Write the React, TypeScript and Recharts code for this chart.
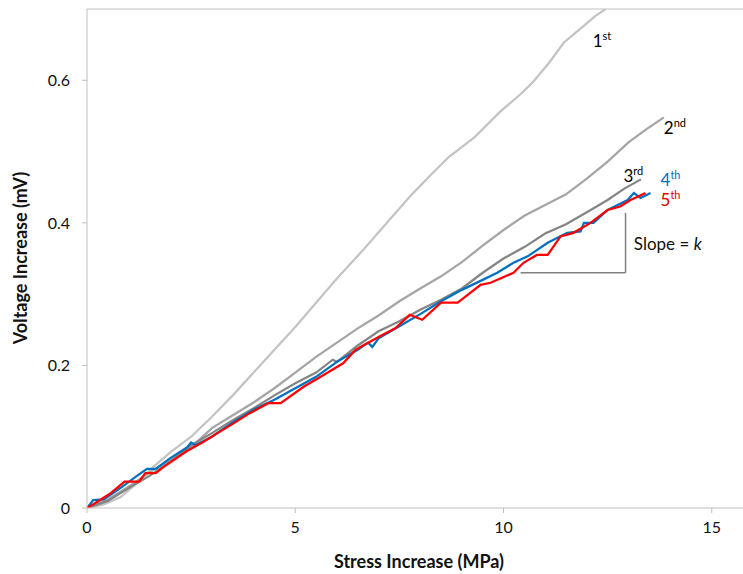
import { LineChart, Line, XAxis, YAxis, ReferenceLine, ReferenceDot } from "recharts";

// loading runs, [stress MPa, voltage mV]
const run1: [number, number][] = [
  [0, 0], [0.4, 0.005], [0.8, 0.015], [1.2, 0.035], [1.6, 0.058], [2.0, 0.078], [2.5, 0.1],
  [3.0, 0.128], [3.5, 0.158], [4.0, 0.19], [4.5, 0.222], [5.0, 0.254], [5.5, 0.288], [6.0, 0.322],
  [6.6, 0.36], [7.2, 0.4], [7.8, 0.44], [8.3, 0.47], [8.7, 0.493], [9.3, 0.52], [9.9, 0.555],
  [10.4, 0.58], [10.7, 0.597], [11.1, 0.625], [11.45, 0.653], [11.9, 0.675], [12.2, 0.69], [12.45, 0.7],
];
const run2: [number, number][] = [
  [0, 0], [0.5, 0.012], [1.0, 0.03], [1.5, 0.05], [2.0, 0.068], [2.5, 0.085], [3.0, 0.112],
  [3.5, 0.13], [4.0, 0.148], [4.5, 0.168], [5.0, 0.19], [5.5, 0.212], [6.0, 0.232], [6.5, 0.252],
  [7.0, 0.27], [7.5, 0.29], [8.0, 0.308], [8.5, 0.325], [9.0, 0.345], [9.5, 0.368], [10.0, 0.39],
  [10.5, 0.41], [11.0, 0.425], [11.5, 0.44], [12.0, 0.462], [12.5, 0.486], [13.0, 0.513], [13.4, 0.53],
  [13.85, 0.548],
];
const run3: [number, number][] = [
  [0, 0], [0.5, 0.01], [1.0, 0.028], [1.5, 0.045], [2.0, 0.065], [2.5, 0.088], [3.0, 0.105],
  [3.5, 0.123], [4.0, 0.14], [4.5, 0.158], [5.0, 0.175], [5.5, 0.19], [5.9, 0.208], [6.0, 0.205],
  [6.5, 0.228], [7.0, 0.248], [7.5, 0.262], [8.0, 0.278], [8.5, 0.292], [9.0, 0.308], [9.5, 0.33],
  [10.0, 0.35], [10.5, 0.366], [11.0, 0.385], [11.5, 0.398], [12.0, 0.415], [12.5, 0.432],
  [12.9, 0.448], [13.3, 0.461],
];
const run4: [number, number][] = [
  [0, 0], [0.15, 0.011], [0.4, 0.012], [0.8, 0.028], [1.2, 0.045], [1.44, 0.055], [1.65, 0.055],
  [2.0, 0.07], [2.4, 0.085], [2.5, 0.092], [2.6, 0.088], [3.0, 0.1], [3.5, 0.12], [4.0, 0.138],
  [4.5, 0.152], [5.0, 0.168], [5.5, 0.184], [6.0, 0.205], [6.5, 0.222], [6.75, 0.232], [6.85, 0.226],
  [7.0, 0.238], [7.5, 0.255], [8.0, 0.272], [8.5, 0.29], [9.0, 0.306], [9.5, 0.32], [9.85, 0.33],
  [10.24, 0.344], [10.58, 0.353], [11.06, 0.372], [11.53, 0.386], [11.85, 0.388], [11.93, 0.4],
  [12.16, 0.4], [12.5, 0.418], [12.98, 0.432], [13.13, 0.442], [13.29, 0.435], [13.53, 0.442],
];
const run5: [number, number][] = [
  [0, 0], [0.2, 0.007], [0.55, 0.02], [0.9, 0.037], [1.25, 0.037], [1.4, 0.049], [1.65, 0.049],
  [1.85, 0.058], [2.4, 0.08], [2.8, 0.093], [3.1, 0.104], [3.5, 0.118], [3.85, 0.131], [4.35, 0.147],
  [4.65, 0.147], [5.2, 0.17], [5.55, 0.182], [6.15, 0.203], [6.45, 0.222], [7.0, 0.24], [7.4, 0.252],
  [7.75, 0.271], [8.05, 0.264], [8.5, 0.288], [8.9, 0.288], [9.45, 0.313], [9.69, 0.316],
  [10.24, 0.33], [10.48, 0.344], [10.8, 0.355], [11.06, 0.355], [11.37, 0.381], [11.68, 0.386],
  [12.09, 0.4], [12.5, 0.418], [12.8, 0.423], [13.05, 0.432], [13.41, 0.442],
];

const xTicks = [0, 5, 10, 15];
const yTicks = [0, 0.2, 0.4, 0.6];

// curve labels: [text, superscript, x, y, colour]
const runLabels: [string, string, number, number, string][] = [
  ["1", "st", 12.14, 0.647, "#000"],
  ["2", "nd", 13.85, 0.524, "#000"],
  ["3", "rd", 12.88, 0.458, "#000"],
  ["4", "th", 13.77, 0.452, "#0070C0"],
  ["5", "th", 13.77, 0.424, "#E00000"],
];

const toPoints = (run: [number, number][]) => run.map(([x, y]) => ({ x, y }));

const series = [
  { name: "1st", data: toPoints(run1), color: "#C3C3C3" },
  { name: "2nd", data: toPoints(run2), color: "#A5A5A5" },
  { name: "3rd", data: toPoints(run3), color: "#858585" },
  { name: "4th", data: toPoints(run4), color: "#0070C0" },
  { name: "5th", data: toPoints(run5), color: "#FF0000" },
];

const FONT = "Lato, 'Open Sans', sans-serif";
const AXIS = "#BFBFBF";

export default function App() {
  return (
    <div style={{ position: "fixed", left: 0, top: 0, background: "#fff" }}>
      <LineChart width={743} height={574} margin={{ top: 9, right: 0, bottom: 0, left: 0 }}>
        <XAxis
          type="number"
          dataKey="x"
          domain={[0, 15.75]}
          ticks={xTicks}
          height={66}
          stroke={AXIS}
          tickSize={5}
          tickMargin={9}
          tick={{ fontSize: 16, fill: "#111", fontFamily: FONT }}
          allowDataOverflow
          label={(p: any) => (
            <text x={419} y={568} textAnchor="middle" fontSize={18} fontWeight={700} fontFamily={FONT} fill="#111">
              Stress Increase (MPa)
            </text>
          )}
        />
        <YAxis
          type="number"
          dataKey="y"
          domain={[0, 0.7]}
          ticks={yTicks}
          width={87}
          stroke={AXIS}
          tickSize={5}
          tickMargin={12}
          tick={{ fontSize: 16, fill: "#111", fontFamily: FONT }}
          allowDataOverflow
          label={(p: any) => (
            <text
              x={0}
              y={0}
              transform="translate(27 258) rotate(-90)"
              textAnchor="middle"
              fontSize={18}
              fontWeight={700}
              fontFamily={FONT}
              fill="#111"
            >
              Voltage Increase (mV)
            </text>
          )}
        />
        <ReferenceLine y={0.7} stroke={AXIS} />
        {series.map((s) => (
          <Line
            key={s.name}
            data={s.data}
            dataKey="y"
            type="linear"
            stroke={s.color}
            strokeWidth={2.25}
            dot={false}
            isAnimationActive={false}
          />
        ))}
        <ReferenceLine segment={[{ x: 10.41, y: 0.33 }, { x: 12.93, y: 0.33 }]} stroke="#808080" strokeWidth={1.5} />
        <ReferenceLine segment={[{ x: 12.93, y: 0.33 }, { x: 12.93, y: 0.414 }]} stroke="#808080" strokeWidth={1.5} />
        <ReferenceDot
          x={13.13}
          y={0.362}
          r={0}
          stroke="none"
          label={(p: any) => (
            <text x={p.viewBox.x} y={p.viewBox.y} fontSize={17} fontFamily={FONT} fill="#111">
              Slope = <tspan fontStyle="italic">k</tspan>
            </text>
          )}
        />
        {runLabels.map(([t, sup, x, y, c]) => (
          <ReferenceDot
            key={t}
            x={x}
            y={y}
            r={0}
            stroke="none"
            label={(p: any) => (
              <text x={p.viewBox.x} y={p.viewBox.y} fontSize={17} fontFamily={FONT} fill={c}>
                {t}
                <tspan dy={-7} fontSize={11}>
                  {sup}
                </tspan>
              </text>
            )}
          />
        ))}
      </LineChart>
    </div>
  );
}
